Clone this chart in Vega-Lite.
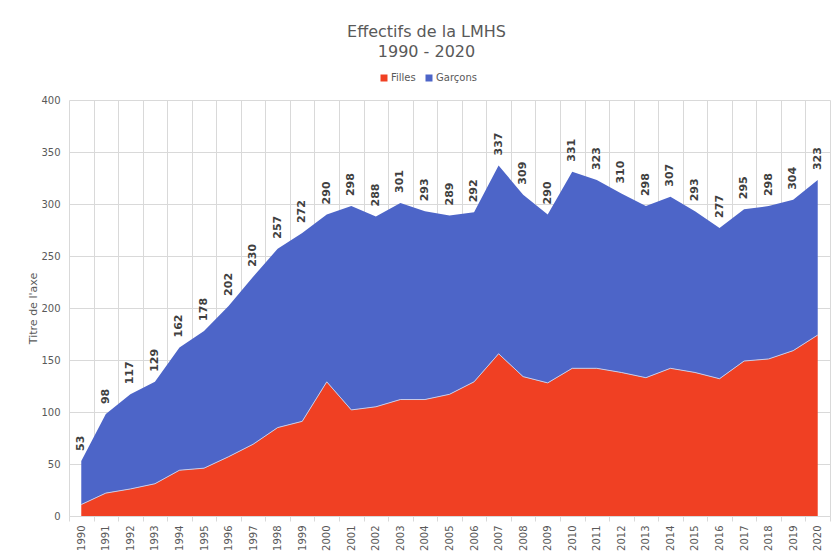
{
  "$schema": "https://vega.github.io/schema/vega-lite/v6.json",
  "autosize": {"type": "none"},
  "width": 761,
  "height": 416,
  "padding": {"left": 69, "top": 100, "right": 2, "bottom": 35},
  "background": "white",
  "title": {
    "text": ["Effectifs de la LMHS", "1990 - 2020"],
    "frame": "group",
    "anchor": "middle",
    "dx": -23,
    "offset": 13,
    "font": "DejaVu Sans",
    "fontSize": 16,
    "fontWeight": "normal",
    "color": "#595959",
    "lineHeight": 20
  },
  "config": {
    "font": "DejaVu Sans",
    "view": {"stroke": null},
    "axis": {"labelFont": "DejaVu Sans", "titleFont": "DejaVu Sans", "labelColor": "#595959", "titleColor": "#595959", "gridColor": "#d9d9d9", "gridWidth": 1}
  },
  "datasets": {
    "series": [
      {"year": "1990", "serie": "Filles", "value": 11}, {"year": "1990", "serie": "Garçons", "value": 42},
      {"year": "1991", "serie": "Filles", "value": 22}, {"year": "1991", "serie": "Garçons", "value": 76},
      {"year": "1992", "serie": "Filles", "value": 26}, {"year": "1992", "serie": "Garçons", "value": 91},
      {"year": "1993", "serie": "Filles", "value": 31}, {"year": "1993", "serie": "Garçons", "value": 98},
      {"year": "1994", "serie": "Filles", "value": 44}, {"year": "1994", "serie": "Garçons", "value": 118},
      {"year": "1995", "serie": "Filles", "value": 46}, {"year": "1995", "serie": "Garçons", "value": 132},
      {"year": "1996", "serie": "Filles", "value": 57}, {"year": "1996", "serie": "Garçons", "value": 145},
      {"year": "1997", "serie": "Filles", "value": 69}, {"year": "1997", "serie": "Garçons", "value": 161},
      {"year": "1998", "serie": "Filles", "value": 85}, {"year": "1998", "serie": "Garçons", "value": 172},
      {"year": "1999", "serie": "Filles", "value": 91}, {"year": "1999", "serie": "Garçons", "value": 181},
      {"year": "2000", "serie": "Filles", "value": 129}, {"year": "2000", "serie": "Garçons", "value": 161},
      {"year": "2001", "serie": "Filles", "value": 102}, {"year": "2001", "serie": "Garçons", "value": 196},
      {"year": "2002", "serie": "Filles", "value": 105}, {"year": "2002", "serie": "Garçons", "value": 183},
      {"year": "2003", "serie": "Filles", "value": 112}, {"year": "2003", "serie": "Garçons", "value": 189},
      {"year": "2004", "serie": "Filles", "value": 112}, {"year": "2004", "serie": "Garçons", "value": 181},
      {"year": "2005", "serie": "Filles", "value": 117}, {"year": "2005", "serie": "Garçons", "value": 172},
      {"year": "2006", "serie": "Filles", "value": 129}, {"year": "2006", "serie": "Garçons", "value": 163},
      {"year": "2007", "serie": "Filles", "value": 156}, {"year": "2007", "serie": "Garçons", "value": 181},
      {"year": "2008", "serie": "Filles", "value": 134}, {"year": "2008", "serie": "Garçons", "value": 175},
      {"year": "2009", "serie": "Filles", "value": 128}, {"year": "2009", "serie": "Garçons", "value": 162},
      {"year": "2010", "serie": "Filles", "value": 142}, {"year": "2010", "serie": "Garçons", "value": 189},
      {"year": "2011", "serie": "Filles", "value": 142}, {"year": "2011", "serie": "Garçons", "value": 181},
      {"year": "2012", "serie": "Filles", "value": 138}, {"year": "2012", "serie": "Garçons", "value": 172},
      {"year": "2013", "serie": "Filles", "value": 133}, {"year": "2013", "serie": "Garçons", "value": 165},
      {"year": "2014", "serie": "Filles", "value": 142}, {"year": "2014", "serie": "Garçons", "value": 165},
      {"year": "2015", "serie": "Filles", "value": 138}, {"year": "2015", "serie": "Garçons", "value": 155},
      {"year": "2016", "serie": "Filles", "value": 132}, {"year": "2016", "serie": "Garçons", "value": 145},
      {"year": "2017", "serie": "Filles", "value": 149}, {"year": "2017", "serie": "Garçons", "value": 146},
      {"year": "2018", "serie": "Filles", "value": 151}, {"year": "2018", "serie": "Garçons", "value": 147},
      {"year": "2019", "serie": "Filles", "value": 159}, {"year": "2019", "serie": "Garçons", "value": 145},
      {"year": "2020", "serie": "Filles", "value": 174}, {"year": "2020", "serie": "Garçons", "value": 149}
    ],
    "totals": [
      {"year": "1990", "total": 53}, {"year": "1991", "total": 98}, {"year": "1992", "total": 117},
      {"year": "1993", "total": 129}, {"year": "1994", "total": 162}, {"year": "1995", "total": 178},
      {"year": "1996", "total": 202}, {"year": "1997", "total": 230}, {"year": "1998", "total": 257},
      {"year": "1999", "total": 272}, {"year": "2000", "total": 290}, {"year": "2001", "total": 298},
      {"year": "2002", "total": 288}, {"year": "2003", "total": 301}, {"year": "2004", "total": 293},
      {"year": "2005", "total": 289}, {"year": "2006", "total": 292}, {"year": "2007", "total": 337},
      {"year": "2008", "total": 309}, {"year": "2009", "total": 290}, {"year": "2010", "total": 331},
      {"year": "2011", "total": 323}, {"year": "2012", "total": 310}, {"year": "2013", "total": 298},
      {"year": "2014", "total": 307}, {"year": "2015", "total": 293}, {"year": "2016", "total": 277},
      {"year": "2017", "total": 295}, {"year": "2018", "total": 298}, {"year": "2019", "total": 304},
      {"year": "2020", "total": 323}
    ]
  },
  "layer": [
    {
      "data": {"name": "series"},
      "mark": {"type": "area", "opacity": 1},
      "encoding": {
        "x": {
          "field": "year", "type": "ordinal",
          "bandPosition": 0.5,
          "scale": {"type": "band", "paddingInner": 0, "paddingOuter": 0},
          "axis": {
            "title": null, "labelAngle": -90, "labelFontSize": 10, "labelPadding": 4,
            "tickBand": "extent", "grid": true, "ticks": true, "tickSize": 5, "tickColor": "#d9d9d9",
            "domain": true, "domainColor": "#d9d9d9"
          }
        },
        "y": {
          "field": "value", "type": "quantitative", "stack": "zero",
          "scale": {"domain": [0, 400], "nice": false},
          "axis": {
            "title": "Titre de l'axe", "values": [0, 50, 100, 150, 200, 250, 300, 350, 400],
            "labelFontSize": 10, "labelPadding": 9, "ticks": false, "domain": false,
            "titleFontSize": 11, "titleFontWeight": "normal", "titlePadding": 2
          }
        },
        "color": {
          "field": "serie", "type": "nominal",
          "scale": {"domain": ["Filles", "Garçons"], "range": ["#F04023", "#4D65C8"]},
          "legend": {
            "title": null, "orient": "none", "legendX": 310, "legendY": -27, "direction": "horizontal",
            "symbolType": "square", "symbolSize": 49, "labelFontSize": 10, "labelColor": "#595959",
            "columnPadding": 8, "labelOffset": 2, "symbolOpacity": 1
          }
        },
        "order": {"field": "serie", "sort": "ascending"}
      }
    },
    {
      "data": {"name": "series"},
      "transform": [{"filter": "datum.serie === 'Filles'"}],
      "mark": {"type": "line", "color": "#c9cbe6", "strokeWidth": 1},
      "encoding": {
        "x": {"field": "year", "type": "ordinal", "bandPosition": 0.5},
        "y": {"field": "value", "type": "quantitative"}
      }
    },
    {
      "data": {"name": "totals"},
      "mark": {"type": "text", "angle": 270, "align": "left", "baseline": "middle", "dx": 10, "fontWeight": "bold", "fontSize": 11, "color": "#404040", "font": "DejaVu Sans"},
      "encoding": {
        "x": {"field": "year", "type": "ordinal", "bandPosition": 0.5},
        "y": {"field": "total", "type": "quantitative"},
        "text": {"field": "total", "type": "quantitative"}
      }
    }
  ]
}
